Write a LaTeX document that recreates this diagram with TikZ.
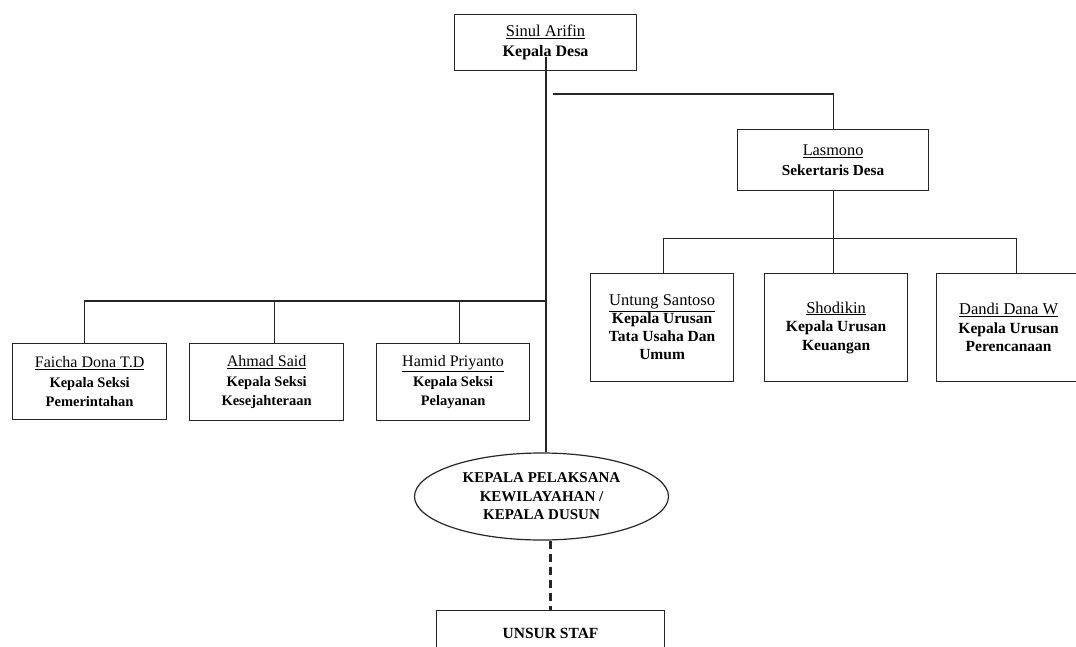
\documentclass[tikz,border=0pt]{standalone}
\usepackage{fontspec}
\setmainfont{Liberation Serif}
\usetikzlibrary{shapes.geometric,calc}
\newcommand{\nmtext}[2]{{\mdseries\fontsize{#1}{10}\selectfont\underline{#2}}}
\begin{document}
\begin{tikzpicture}[x=1pt,y=-1pt,
  box/.style={draw=black!85,line width=1.2pt,inner sep=0pt,anchor=north west,align=center},
  conn/.style={draw=black!85,line width=1.2pt}]
\useasboundingbox (0,0) rectangle (1076,646);
\clip (0,0) rectangle (1076,646);
\fill[white] (0,0) rectangle (1076,646);
% boxes
\node[box,minimum width=182,minimum height=56,font=\fontsize{16}{20}\selectfont\bfseries] (kades) at (454,14)
  {\nmtext{16.5}{Sinul Arifin}\\Kepala Desa};
\node[box,minimum width=191,minimum height=61,font=\fontsize{15.3}{20}\selectfont\bfseries] (sekdes) at (737,129)
  {\nmtext{16.3}{Lasmono}\\Sekertaris Desa};
\node[box,minimum width=143,minimum height=108,font=\fontsize{15.5}{18}\selectfont\bfseries] (untung) at (590,273)
  {\nmtext{16.5}{Untung Santoso}\\Kepala Urusan\\Tata Usaha Dan\\Umum};
\node[box,minimum width=143,minimum height=108,font=\fontsize{15.5}{18.5}\selectfont\bfseries] (shodikin) at (764,273)
  {\nmtext{16.5}{Shodikin}\\Kepala Urusan\\Keuangan};
\node[box,minimum width=144,minimum height=108,font=\fontsize{15.5}{18.5}\selectfont\bfseries] (dandi) at (936,273)
  {\nmtext{16.5}{Dandi Dana W}\\Kepala Urusan\\Perencanaan};
\node[box,minimum width=154,minimum height=76,font=\fontsize{14.5}{19.5}\selectfont\bfseries] (faicha) at (12,343)
  {\nmtext{16}{Faicha Dona T.D}\\Kepala Seksi\\Pemerintahan};
\node[box,minimum width=154,minimum height=77,font=\fontsize{14.5}{19.5}\selectfont\bfseries] (ahmad) at (189,343)
  {\nmtext{16}{Ahmad Said}\\Kepala Seksi\\Kesejahteraan};
\node[box,minimum width=153,minimum height=77,font=\fontsize{14.5}{19.5}\selectfont\bfseries] (hamid) at (376,343)
  {\nmtext{16}{Hamid Priyanto}\\Kepala Seksi\\Pelayanan};
\node[ellipse,draw=black!85,line width=1.2pt,minimum width=254,minimum height=87,inner sep=0pt,align=center,
  font=\fontsize{15}{18.5}\selectfont\bfseries] (kadus) at (541.5,496.5)
  {KEPALA PELAKSANA\\KEWILAYAHAN /\\KEPALA DUSUN};
\node[box,minimum width=228,minimum height=46,font=\fontsize{15.5}{18}\selectfont\bfseries] (staf) at (436,610) {UNSUR STAF};
% connector points
\coordinate (kin) at (546,57);
\coordinate (rbus) at (553,94);
\coordinate (lbus) at (546,301);
% main vertical
\draw[conn] (kin) -- (kin |- kadus.north);
% to sekdes
\draw[conn] (rbus) -| (sekdes.north);
% sekdes to urusan
\draw[conn] (sekdes.south) -- ++(0,47) coordinate (sbus);
\draw[conn] ([xshift=1.5]untung.north) |- (sbus) -| ([xshift=7.5]dandi.north);
\draw[conn] (sbus) -- (sbus |- shodikin.north);
% left bus
\draw[conn] (lbus) -| ([xshift=-5]faicha.north);
\draw[conn] ([xshift=8]ahmad.north) -- ([xshift=8]ahmad.north |- lbus);
\draw[conn] ([xshift=6.5]hamid.north) -- ([xshift=6.5]hamid.north |- lbus);
% dashed to staf
\draw[draw=black!85,line width=2.6pt,dash pattern=on 8pt off 5pt] (staf.north |- kadus.south) -- (staf.north);
\end{tikzpicture}
\end{document}
